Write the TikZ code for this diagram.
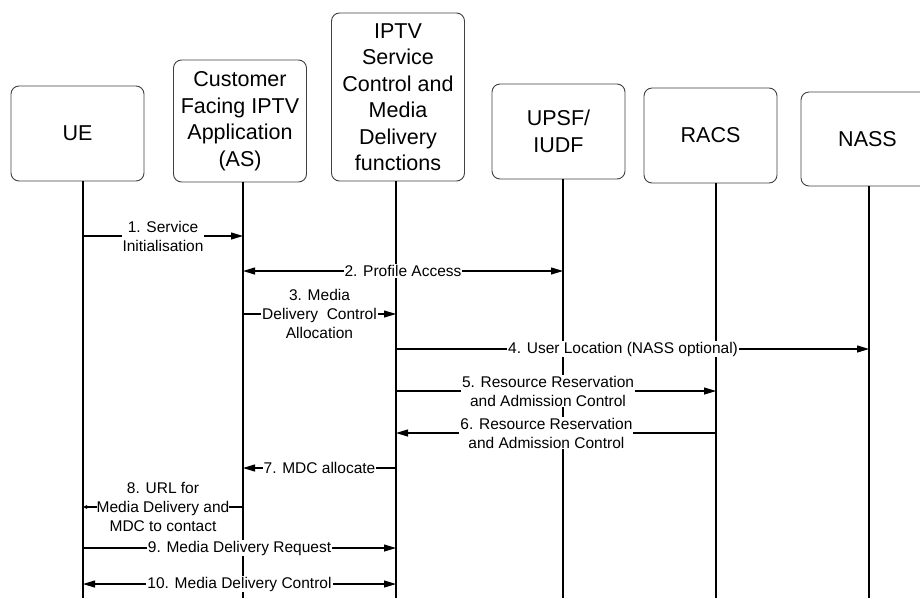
\documentclass[tikz,border=0pt]{standalone}
\usepackage{fontspec}
\setmainfont{Liberation Sans}
\usepackage{tikz}
\usetikzlibrary{arrows.meta}
\tikzstyle{entity} = [rectangle, rounded corners=8pt, minimum width=133pt, align=center, draw=black!75, line width=0.9pt, font=\fontsize{21.5}{26.5}\selectfont]
\tikzstyle{life} = [line width=1.1pt]
\tikzstyle{arrow} = [line width=1.1pt, -{Triangle[length=12pt,width=7pt]}]
\tikzstyle{twoway} = [line width=1.1pt, {Triangle[length=12pt,width=7pt]}-{Triangle[length=12pt,width=7pt]}]
\tikzstyle{msg} = [fill=white, inner sep=1pt, align=center, font=\fontsize{15.5}{19}\selectfont]

\begin{document}
\begin{tikzpicture}[x=1pt, y=-1pt]
    \useasboundingbox (0,0) rectangle (920,598);

    % Nodes
    \node (ue) [entity, minimum height=95pt] at (77.5,133.5) {UE};
    \node (as) [entity, minimum height=122pt] at (240,121) {Customer\\Facing IPTV\\Application\\(AS)};
    \node (iptv) [entity, minimum height=168pt] at (398,97) {IPTV\\Service\\Control and\\Media\\Delivery\\functions};
    \node (upsf) [entity, minimum height=95pt] at (558.5,131.5) {UPSF/\\IUDF};
    \node (racs) [entity, minimum height=95pt] at (710.5,135.5) {RACS};
    \node (nass) [entity, minimum height=94pt] at (867.5,139) {NASS};

    % Lifelines
    \coordinate (ueL) at ([xshift=5.5pt]ue.south);
    \coordinate (asL) at ([xshift=3pt]as.south);
    \coordinate (iptvL) at ([xshift=-2pt]iptv.south);
    \coordinate (upsfL) at ([xshift=4.5pt]upsf.south);
    \coordinate (racsL) at ([xshift=5.5pt]racs.south);
    \coordinate (nassL) at ([xshift=1.5pt]nass.south);
    \draw [life] (ueL) -- (ueL |- 0,598);
    \draw [life] (asL) -- (asL |- 0,598);
    \draw [life] (iptvL) -- (iptvL |- 0,598);
    \draw [life] (upsfL) -- (upsfL |- 0,598);
    \draw [life] (racsL) -- (racsL |- 0,598);
    \draw [life] (nassL) -- (nassL |- 0,598);

    % Arrows
    \draw [arrow] (ueL |- 0,236) -- node[msg] {1. Service\\Initialisation} (asL |- 0,236);
    \draw [twoway] (asL |- 0,271) -- node[msg] {2. Profile Access} (upsfL |- 0,271);
    \draw [arrow] (asL |- 0,314) -- node[msg] {3. Media\\Delivery~~Control\\Allocation} (iptvL |- 0,314);
    \draw [arrow] (iptvL |- 0,349) -- node[msg, pos=0.48] {4. User Location (NASS optional)} (nassL |- 0,349);
    \draw [arrow] (iptvL |- 0,391) -- node[msg, pos=0.475] {5. Resource Reservation\\and Admission Control} (racsL |- 0,391);
    \draw [arrow] (racsL |- 0,433) -- node[msg, pos=0.53] {6. Resource Reservation\\and Admission Control} (iptvL |- 0,433);
    \draw [arrow] (iptvL |- 0,468) -- node[msg] {7. MDC allocate} (asL |- 0,468);
    \draw [line width=1.1pt, -{Triangle[length=4pt,width=3.5pt]}] (asL |- 0,507) -- node[msg, inner sep=0pt] {8. URL for\\Media Delivery and\\MDC to contact} (ueL |- 0,507);
    \draw [arrow] (ueL |- 0,548) -- node[msg] {9. Media Delivery Request} (iptvL |- 0,548);
    \draw [twoway] (ueL |- 0,584) -- node[msg] {10. Media Delivery Control} (iptvL |- 0,584);

\end{tikzpicture}
\end{document}
